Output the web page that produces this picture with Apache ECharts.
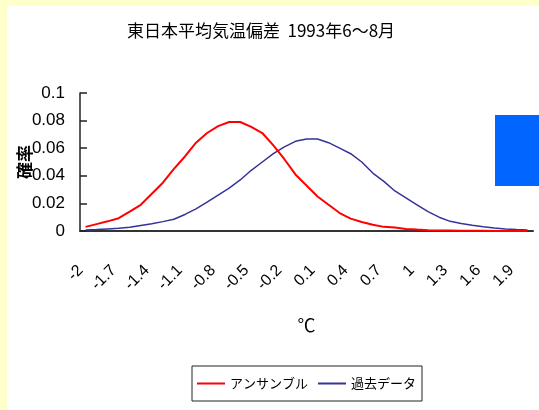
<!DOCTYPE html>
<html>
<head>
<meta charset="utf-8">
<script src="https://cdn.jsdelivr.net/npm/echarts@6/dist/echarts.min.js"></script>
<style>
  html, body { margin: 0; padding: 0; background: #FFFFCC; }
  #chart { width: 539px; height: 410px; }
</style>
</head>
<body>
<div id="chart"></div>
<script>
// Temperature anomaly classes (°C), one category every 0.1
const categories = [
  '-2', '-1.9', '-1.8', '-1.7', '-1.6', '-1.5', '-1.4', '-1.3', '-1.2', '-1.1',
  '-1', '-0.9', '-0.8', '-0.7', '-0.6', '-0.5', '-0.4', '-0.3', '-0.2', '-0.1',
  '0', '0.1', '0.2', '0.3', '0.4', '0.5', '0.6', '0.7', '0.8', '0.9',
  '1', '1.1', '1.2', '1.3', '1.4', '1.5', '1.6', '1.7', '1.8', '1.9', '2'
];

// Probability from the ensemble forecast
const ensemble = [
  0.003, 0.005, 0.007, 0.0093, 0.014, 0.019, 0.027, 0.035, 0.045, 0.054,
  0.064, 0.071, 0.076, 0.079, 0.079, 0.0755, 0.071, 0.062, 0.052, 0.041,
  0.033, 0.025, 0.019, 0.013, 0.009, 0.0065, 0.0045, 0.003, 0.0025, 0.0015,
  0.001, 0.0006, 0.0004, 0.0003, 0.0002, 0.0001, 0.0001, 0, 0, 0, 0
];

// Probability from past observations
const pastData = [
  0.0007, 0.001, 0.0015, 0.002, 0.0028, 0.004, 0.0052, 0.0068, 0.0085, 0.012,
  0.016, 0.021, 0.026, 0.031, 0.037, 0.044, 0.050, 0.056, 0.061, 0.065,
  0.0667, 0.0667, 0.064, 0.060, 0.056, 0.050, 0.042, 0.036, 0.029, 0.024,
  0.019, 0.014, 0.010, 0.007, 0.0055, 0.0042, 0.003, 0.0022, 0.0015, 0.001, 0.0007
];

// Probability axis ticks
const yTicks = { min: 0, max: 0.1, step: 0.02 };

const seriesNames = ['アンサンブル', '過去データ'];
const latinFont = '"Liberation Sans", Arial, sans-serif';
const cjkFont = '"Noto Sans CJK JP", sans-serif';

const chart = echarts.init(document.getElementById('chart'), null, { renderer: 'canvas' });

chart.setOption({
  backgroundColor: '#FFFFCC',
  animation: false,
  graphic: [
    {
      type: 'rect',
      z: -10,
      silent: true,
      shape: { x: 7, y: 6, width: 540, height: 410 },
      style: { fill: '#ffffff' }
    },
    {
      type: 'rect',
      z: 100,
      silent: true,
      shape: { x: 495, y: 115, width: 50, height: 71 },
      style: { fill: '#0066FF' }
    }
  ],
  title: {
    text: '東日本平均気温偏差  1993年6～8月',
    left: 261,
    top: 22,
    textAlign: 'center',
    padding: 0,
    textStyle: { fontSize: 17, fontWeight: 'normal', color: '#000', fontFamily: cjkFont }
  },
  legend: {
    left: 192,
    top: 366,
    padding: [11, 6, 11, 5],
    itemGap: 10,
    itemWidth: 28,
    itemHeight: 2,
    borderColor: '#222',
    borderWidth: 1,
    backgroundColor: '#fff',
    textStyle: { fontSize: 13, color: '#000', fontFamily: cjkFont },
    data: [
      { name: seriesNames[0], icon: 'rect' },
      { name: seriesNames[1], icon: 'rect' }
    ]
  },
  grid: {
    left: 80, right: 6, top: 93, bottom: 179,
    containLabel: false,
    outerBoundsMode: 'none'
  },
  xAxis: {
    type: 'category',
    data: categories,
    boundaryGap: true,
    name: '℃',
    nameLocation: 'middle',
    nameGap: 85,
    nameMoveOverlap: false,
    nameTextStyle: { fontSize: 18, color: '#000', fontFamily: cjkFont },
    axisLine: { lineStyle: { color: '#333', width: 2 } },
    axisTick: { show: false },
    axisLabel: {
      interval: 2,
      rotate: 45,
      margin: 32,
      padding: [0, 7, 0, 0],
      fontSize: 16,
      color: '#000',
      fontFamily: latinFont
    },
    splitLine: { show: false }
  },
  yAxis: {
    type: 'value',
    min: yTicks.min,
    max: yTicks.max,
    interval: yTicks.step,
    name: '確率',
    nameLocation: 'middle',
    nameGap: 47,
    nameRotate: 90,
    nameMoveOverlap: false,
    nameTextStyle: { fontSize: 17, color: '#000', fontWeight: 'bold', fontFamily: cjkFont },
    axisLine: { show: true, lineStyle: { color: '#222', width: 1.5 } },
    axisTick: { show: true, inside: true, length: 7, lineStyle: { color: '#222', width: 1.5 } },
    axisLabel: {
      margin: 15,
      fontSize: 17,
      color: '#000',
      fontFamily: latinFont,
      formatter: v => String(+v.toFixed(2))
    },
    splitLine: { show: false }
  },
  series: [
    {
      name: seriesNames[0],
      type: 'line',
      data: ensemble,
      symbol: 'none',
      smooth: false,
      z: 3,
      itemStyle: { color: '#FF0000' },
      lineStyle: { color: '#FF0000', width: 2 }
    },
    {
      name: seriesNames[1],
      type: 'line',
      data: pastData,
      symbol: 'none',
      smooth: false,
      z: 2,
      itemStyle: { color: '#333399' },
      lineStyle: { color: '#333399', width: 1.5 }
    }
  ]
});
</script>
</body>
</html>
